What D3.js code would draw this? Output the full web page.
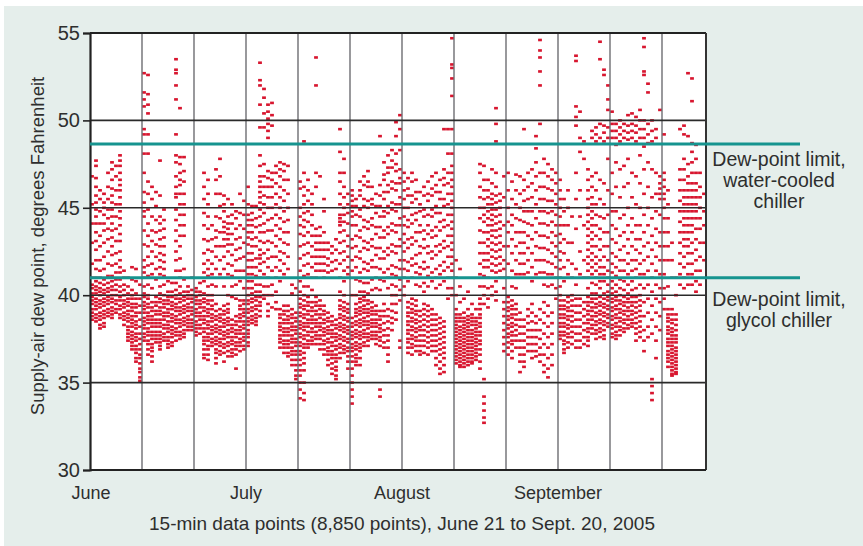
<!DOCTYPE html>
<html><head><meta charset="utf-8">
<script src="https://cdn.jsdelivr.net/npm/d3@7"></script>
<style>body{margin:0;background:#fff}svg{display:block}</style>
</head><body><svg id="c" width="863" height="546"></svg>
<script>
// ---- data (values in tenths of a degree F, one string per 4-px time slice) ----
const yTicks = [30, 35, 40, 45, 50, 55];
const monthLabels = ["June", "July", "August", "September"];
const monthSlices = [0, 39, 78, 117];
const gridSlices = [13, 26, 39, 52, 65, 78, 91, 104, 117, 130, 143];
const waterLimit = 48.65;
const glycolLimit = 41.0;
const waterLabel = ["Dew-point limit,", "water-cooled", "chiller"];
const glycolLabel = ["Dew-point limit,", "glycol chiller"];
const yTitle = "Supply-air dew point, degrees Fahrenheit";
const xTitle = "15-min data points (8,850 points), June 21 to Sept. 20, 2005";

const block00 = [
"468 452 441 430 418 410 406 404 401 399 397 395 392 390 388 386",
"477 474 467 462 457 453 449 445 441 436 431 426 420 415 410 408 405 403 401 398 396 394 392 389 387 385",
"460 455 448 441 434 428 420 414 410 407 404 402 400 397 395 393 390 388 386 383 381",
"458 453 450 446 441 437 430 422 415 409 406 403 401 398 396 394 391 389 387 384 382",
"470 462 455 449 444 438 432 425 418 411 407 404 402 399 397 395 392 390 388",
"476 472 466 461 457 453 449 445 441 437 433 428 423 417 411 408 405 403 400 398 396 393 391 389 387",
"474 468 460 452 445 438 431 424 418 413 409 406 403 400 397 395 392 390",
"480 477 474 470 466 463 460 456 452 448 444 440 435 431 425 420 416 413 409 405 402 399 397 394 392 389 387",
"414 410 406 403 400 397 395 393 390 388 386 383",
"410 405 401 398 396 394 391 389 387 385 382 380 378 376 374",
"416 409 403 400 398 395 393 391 388 386 384 382 379 377 375 373 371 369",
"415 408 401 398 395 393 390 388 385 383 381 378 376 374 371 369 367 364 362",
"406 398 394 390 386 382 378 375 372 369 366 364 361 358 356 353 351"];
const block01 = [
"527 516 512 508 495 492 481 470 459 453 448 445 437 429 420 416 413 410 405 401 399 396 394 392 390 387 385 383 381 378 376 374",
"526 515 509 504 492 481 465 458 449 441 434 428 422 417 411 406 400 398 395 393 390 388 386 384 381 379 377 374 372 369 366",
"462 455 445 437 431 425 418 412 404 396 393 391 388 386 384 382 379 377 375 372 370 368 365 362",
"459 451 443 436 429 422 415 409 399 396 394 391 389 386 384 382 379 377 375 373",
"477 457 445 441 437 432 428 424 420 416 412 405 401 398 396 393 391 389 386 384 382 379 377 375 373 371 369",
"449 443 438 433 428 423 419 415 411 406 400 397 395 393 390 388 386 383 381 378 376 374",
"408 402 399 397 395 392 390 388 385 383 381 379 376 374 372 370",
"407 402 399 396 394 392 389 387 385 382 380 378 376 373 371",
"535 529 527 520 512 492 480 476 468 462 458 456 449 443 437 431 425 420 414 407 403 400 398 395 393 391 388 386 384 381 379 377 374",
"507 479 475 470 466 463 458 452 446 440 434 428 421 414 410 405 401 398 396 393 391 389 386 384 382 379 377 375",
"479 471 465 458 452 446 440 434 415 409 402 399 397 394 392 390 387 385 383 380 378 376",
"405 402 400 398 395 393 391 388 386 384 382 380",
"410 403 400 398 396 393 391 389 386 384 382 380"];
const block02 = [
"404 402 399 397 395 392 390 388 385 383 381 379 377",
"407 402 400 397 395 393 390 388 386 383 381 378",
"470 462 455 447 440 432 424 418 413 408 401 398 396 393 391 388 386 384 381 379 376 374 372 369 366 364",
"466 458 452 445 438 431 426 420 415 411 405 400 397 395 392 390 388 385 383 381 378 376 374 371 369 366 363",
"440 432 425 418 412 406 400 397 394 392 389 387 385 382 380 378 375 373 371",
"472 466 458 445 437 433 428 422 415 405 395 391 388 386 383 381 379 376 374 372 369 367 364 361",
"478 468 458 451 444 436 428 420 412 392 389 387 385 382 380 378 375 373 371 368 366",
"457 452 448 442 439 436 432 428 422 415 405 394 391 389 386 384 382 379 377 375 372 370 367 362",
"455 445 441 438 435 432 429 425 418 412 400 395 392 390 387 385 383 380 378 376 373 371 368 365",
"452 446 441 435 429 423 417 411 405 399 386 383 381 379 376 374 372 369 367 365",
"448 444 438 432 426 420 414 406 398 388 385 383 380 378 376 373 371 369 366 358",
"458 447 440 433 427 421 414 408 397 394 392 389 387 385 382 380 378 375 373 371 368",
"454 446 438 430 422 414 404 397 395 392 390 388 385 383 381 378 376 374 371 369"];
const block03 = [
"462 452 446 443 440 436 433 429 424 420 416 412 408 404 400 397 395 392 390 387 385 383 380 378 376 373 371",
"451 447 443 440 436 432 428 424 420 416 412 408 404 401 398 396 393 391 388 386 384",
"451 444 439 433 428 421 416 411 406 402 399 397 394 392 389 387 385 383",
"533 523 520 509 496 480 474 468 465 462 459 456 453 449 445 440 436 431 426 423 421 418 414 410 406 402 399 396 394 391 388",
"518 513 504 496 475 468 462 457 452 447 441 436 430 424 419 412 405 400 398",
"509 505 501 498 494 490 471 467 462 456 450 443 437 431 426 421 416 410 405 400 395 391 388",
"510 503 497 470 466 462 456 450 444 437 430 422 414 406 400 393",
"474 470 464 458 452 446 440 434 428 422 416 410 402 396 392",
"476 472 468 462 456 450 444 438 432 425 420 414 408 392 389 387 384 382 380 377 375 373 370",
"475 471 466 460 454 448 442 436 430 424 418 412 394 391 389 386 384 381 379 377 374 372 370 367",
"474 466 458 450 443 436 429 422 415 394 391 388 386 384 381 379 377 374 372 370 367 365",
"406 401 392 389 387 384 382 380 377 375 373 370 368 366 363 360",
"404 390 387 385 382 380 378 375 373 371 368 366 363 360 357 354 352"];
const block04 = [
"465 461 450 445 440 435 428 421 414 408 402 398 395 393 390 388 385 383 381 378 376 373 371 368 366 363 360 357 354 350 346 341",
"488 470 462 457 452 447 443 439 434 429 423 417 411 405 400 397 394 392 389 387 384 382 380 377 375 372 370 367 364 361 357 350 344 340",
"466 460 454 448 442 436 430 424 418 412 405 399 396 394 391 389 386 384 382 379 377 374 372 370",
"458 452 446 440 434 428 422 416 410 403 396 393 391 388 386 384 381 379 376 374 372",
"536 520 470 462 438 434 430 426 422 418 414 410 399 396 394 391 389 386 384 382 379 377 375 372",
"468 439 434 430 426 422 418 414 397 394 392 389 387 384 382 380 377 375 372 369",
"455 448 436 430 426 422 418 414 410 394 391 389 386 384 381 379 377 374 372 369 366",
"430 426 421 417 413 390 387 385 382 380 378 375 373 370 368 366 363 360",
"428 424 419 414 388 385 383 380 378 376 373 371 368 366 364 361 358 355",
"432 426 420 415 386 383 381 378 376 374 371 369 366 364 362 359 357 354 352",
"495 482 470 465 458 452 446 444 442 440 436 430 424 418 410 402 397 394 392 389 387 384 382 380 377 375 372 370 367 364",
"478 470 462 456 450 446 442 437 431 425 420 414 408 400 396 393 391 388 386 383 381 379 376 374 371 369 367",
"458 452 447 441 434 428 422 416 412 395 392 390 387 385 382 380 378 375 373 370 368 365 362 358"];
const block05 = [
"460 457 454 451 448 445 440 432 427 420 414 400 387 384 382 379 377 375 372 370 368 365 362 358 354 350 346 342 338",
"455 451 446 440 434 428 422 416 409 400 395 392 390 388 385 383 380 378 376 373 371 369 366 364 362 360",
"465 460 457 449 445 437 433 425 421 413 408 402 398 396 393 391 389 386 384 382 379 377 375 372 370 368 364 360",
"468 463 455 451 443 439 431 427 419 415 407 402 399 397 394 392 390 387 385 383 380 378 376 373 371",
"471 465 462 454 450 442 438 430 426 418 414 407 401 397 395 392 390 388 385 383 381 378 376 374 371",
"462 455 452 444 440 432 428 420 416 409 403 396 393 391 389 386 384 382 379 377 375",
"458 451 447 439 435 427 423 416 410 404 394 391 389 386 384 382 379 377 375 372",
"491 463 457 451 445 439 433 427 421 415 409 403 391 388 386 383 381 379 376 374 371 346 342",
"476 469 466 459 455 448 445 437 433 425 421 413 408 395 391 388 384 380 377 373 370",
"480 473 470 463 459 451 447 439 435 427 423 415 410 404 392 388 385 381 377 374 370 366 362",
"483 477 473 465 461 453 449 441 437 429 425 417 412 406 400 395 391 387 384 380",
"499 491 481 475 471 464 460 452 448 440 436 428 424 416 411 405 400 395 390 386",
"503 495 483 472 467 464 456 452 444 440 432 428 420 415 409 403 397 374 370"];
const block06 = [
"470 465 460 455 450 445 440 435 430 425 420 415 410 405 400",
"467 461 457 450 443 439 432 427 419 414 408 396 393 390 388 385 383 380 378 375 373 370 367",
"470 465 457 453 446 441 433 429 421 417 410 398 395 392 390 387 385 382 380 377 375 372 370 366",
"466 459 455 447 443 436 431 423 418 413 406 397 394 391 389 386 384 381 379 376 374 371 368",
"459 452 448 440 436 428 424 416 412 405 391 388 385 382 380 377 374 371 368 366",
"462 457 449 445 437 432 427 419 415 407 402 395 392 389 386 383 380 377 374 371 367",
"465 458 454 446 440 435 428 424 416 411 405 394 391 388 385 382 379 376 373 370 366",
"468 461 457 449 445 437 433 425 421 413 408 392 389 386 383 380 377 374 371 368",
"470 463 459 451 447 439 434 428 423 415 410 404 389 386 383 380 377 374 371 368 364 360",
"466 459 455 447 442 437 429 425 417 412 406 387 384 381 378 375 372 369 366 362 358 355",
"495 472 467 463 455 451 443 439 431 427 419 414 408 385 382 379 376 373 370 367 364 360 356",
"495 481 470 464 458 452 446 440 434 428 422 416 410 404 398",
"547 532 530 524 514 495 481 474 470 466 462 458 454 450 446 442 438 434 430 426 422 418 414 410 404 400"];
const block07 = [
"420 410 400 392 389 387 385 383 381 379 377 375 373 371 369 367 365 363 361",
"415 405 396 389 387 385 382 380 378 376 374 372 370 368 366 364 362 360 359",
"398 390 387 385 383 381 379 377 375 373 371 369 367 365 363 361 359",
"402 392 388 386 384 382 380 378 376 374 372 370 368 366 364 362 360",
"395 389 387 385 383 380 378 376 374 372 370 368 366 364 362 361",
"392 387 385 383 381 379 377 375 373 371 369 367 365 363",
"475 470 462 456 450 444 437 430 424 418 412 405 398 395 392 389 387 384 382 379 377 374 372 369 366 362 358",
"474 466 460 455 450 446 442 436 430 424 420 416 411 405 400 395 352 342 338 334 330 327",
"466 460 456 452 448 444 440 436 432 428 424 420 416 410 404 398 393",
"472 464 458 455 452 449 446 443 440 437 434 430 426 422 418 414 405 400",
"507 498 488 470 462 457 453 449 445 441 437 433 429 425 421 417 413 408 402 397",
"458 454 450 446 442 438 434 430 426 422 418 414 410",
"468 456 440 428 420 415 410 404 396 392 388 384 380 376 372 368"];
const block08 = [
"470 460 450 442 436 428 418 410 399 396 393 391 388 386 383 381 378 376 373 370 366",
"465 455 446 440 432 424 414 405 397 394 392 389 387 384 382 379 377 374 372 368 364",
"469 460 452 444 436 428 420 412 404 395 392 389 386 383 380 377 374 370",
"468 458 450 443 436 430 424 418 412 390 386 382 378 374 370 366 362 356",
"495 466 460 454 448 442 436 430 424 418 412 386 382 378 374 370 366 362 359",
"470 462 455 448 441 434 427 420 413 392 388 384 380 376 372 368",
"472 464 456 448 440 432 424 416 408 395 390 385 380 376 372 368 364",
"491 484 476 468 460 452 444 436 428 420 412 388 384 380 376 372 368 365",
"546 540 536 528 520 498 470 462 455 448 441 434 427 420 413 392 386 380 375 370 366 362",
"478 470 462 455 448 441 434 427 420 413 406 396 390 384 378 372 366 360 356",
"475 468 461 454 447 440 433 426 419 412 405 394 388 382 376 370 364 358 353",
"472 466 460 454 448 442 436 430 424 418 412 406 390 384 378 372 366 360",
"470 464 458 452 446 440 434 428 422 416 410 404 398"];
const block09 = [
"466 460 455 450 445 440 435 430 425 420 415 410 405 400 397 394 392 389 387 384 382 379 377 375",
"455 448 440 432 424 416 408 397 394 392 389 387 384 382 379 377 374 372 369 367",
"460 450 440 430 420 412 399 396 393 391 388 386 383 381 378 376 373 370",
"445 430 418 410 400 397 394 391 388 385 382 379 376 372",
"537 534 508 502 497 470 455 438 415 406 398 394 390 386 382 378 374 370",
"505 490 482 460 445 425 412 398 394 390 386 382 378 374 370",
"488 478 440 420 410 396 392 388 384 380 376 372",
"472 466 460 455 450 446 442 438 434 430 426 422 418 414 410 404 399 396 394 391 389 386 384 381 379 376 374 371",
"494 490 468 462 456 452 448 444 440 436 432 428 424 420 416 412 407 401 398 396 393 391 388 386 383 381 378",
"496 492 488 470 460 452 446 440 434 428 422 418 414 410 406 401 398 395 393 390 388 385 383 380 378 375",
"545 535 498 490 466 455 445 438 432 426 420 416 412 408 404 399 396 394 391 389 386 384 381 379 376",
"529 526 497 493 488 464 452 444 436 428 422 416 412 408 401 398 395 393 390 388 385 383 380 377 375",
"520 512 506 496 490 478 460 446 436 428 420 414 410 406 402 399 397 394 392 389 387 384 382"];
const block10 = [
"505 498 494 490 470 458 448 440 432 424 418 413 408 404 401 398 396 393 391 388 386 383 381 378 376",
"498 494 490 486 476 462 448 438 430 422 416 411 406 402 399 397 394 392 389 387 384 382 379 377 375",
"500 496 492 488 472 456 444 434 426 420 414 409 404 400 397 395 392 390 387 385 382 380 377",
"498 494 490 474 462 446 436 428 420 414 408 403 399 396 394 391 389 386 384 381 379",
"503 497 493 489 478 464 450 440 432 424 418 412 406 401 398 396 393 391 388 386 383 381",
"504 498 494 490 470 456 444 436 428 420 414 408 403 399 396 394 391 389 386 384 382",
"502 497 493 488 468 452 440 432 426 420 415 410 404 399 396 393 390 387 384 381 378 374",
"506 500 495 490 480 464 450 440 432 424 418 412 406 400 397 394 391 388 385 382 379 376",
"547 542 528 526 500 495 490 485 472 458 446 436 428 420 412 404 396 388 380 374 368",
"521 516 498 492 487 476 462 450 440 430 422 414 406 398 390 382 376",
"500 494 488 472 456 444 434 426 418 410 402 394 386 378 352 348 344 340",
"495 490 470 458 448 438 430 422 414 406 398 390 382 374 364",
"506 468 464 461 458 455 446 436 428 420 412 404 396 388 380"];
const block11 = [
"492 470 466 462 458 455 450 444 436 428 420 412 404 398 392",
"460 452 444 436 428 420 405 392 389 387 385 382 380 378 375 373 371 368 366 364 362 359",
"430 420 410 392 389 386 384 381 379 377 375 373 371 369 367 365 363 361 359 357 355 354",
"410 400 389 386 383 380 377 375 373 370 368 366 364 362 360 358 356 355",
"495 472 466 460 454 448 442 436 430 424 418 412 406",
"497 492 478 472 466 460 456 452 448 444 440 436 432 428 422 416 410 404",
"527 491 475 468 464 460 456 452 448 444 440 436 432 428 424 418 412 406",
"524 511 487 482 476 470 464 460 456 452 448 444 440 436 430 424 418 412 406",
"486 478 470 464 460 456 452 448 444 438 432 426 420 414 408 402",
"470 462 456 450 444 438 430 422 414 406",
"458 448 440 430 420"];

// ---- build ----
const slices = [].concat(block00, block01, block02, block03, block04, block05,
  block06, block07, block08, block09, block10, block11);
const points = [];
slices.forEach((s, i) => s.trim().split(/\s+/).forEach(v => points.push({i, v: +v / 10})));

const W = 863, H = 546;
const M = {l: 90, r: 706, t: 33, b: 470};
const x = d3.scaleLinear().domain([0, slices.length]).range([M.l, M.r]);
const y = d3.scaleLinear().domain([30, 55]).range([M.b, M.t]);
const svg = d3.select("#c");
const FONT = "'Liberation Sans', Arial, Helvetica, sans-serif";
const TXT = "#2e2e2e";

svg.append("rect").attr("x", 4).attr("y", 6).attr("width", W - 4).attr("height", H - 6).attr("fill", "#e5eeeb");
svg.append("rect").attr("x", M.l).attr("y", M.t).attr("width", M.r - M.l).attr("height", M.b - M.t).attr("fill", "#fff");

// points
const colW = x(1) - x(0);
svg.append("g").selectAll("rect").data(points).join("rect")
  .attr("x", d => x(d.i) + 0.1)
  .attr("width", colW - 0.2)
  .attr("y", d => y(d.v) - 1.3)
  .attr("height", 2.6)
  .attr("fill", "#d8162f");

// grid
svg.append("g").selectAll("line").data(gridSlices).join("line")
  .attr("x1", d => x(d)).attr("x2", d => x(d))
  .attr("y1", M.t).attr("y2", M.b)
  .attr("stroke", "#6d6d72").attr("stroke-width", 1.4);
svg.append("g").selectAll("line").data(yTicks.slice(1, -1)).join("line")
  .attr("x1", M.l).attr("x2", M.r)
  .attr("y1", d => y(d)).attr("y2", d => y(d))
  .attr("stroke", "#2a2a2a").attr("stroke-width", 1.6);
// frame
svg.append("line").attr("x1", M.l).attr("x2", M.r).attr("y1", y(55)).attr("y2", y(55)).attr("stroke", "#222").attr("stroke-width", 2.2);
svg.append("line").attr("x1", M.r).attr("x2", M.r).attr("y1", M.t).attr("y2", M.b).attr("stroke", "#333").attr("stroke-width", 2);
svg.append("line").attr("x1", M.l).attr("x2", M.r).attr("y1", M.b).attr("y2", M.b).attr("stroke", "#222").attr("stroke-width", 2.2);

// y axis
const ax = svg.append("g").attr("transform", `translate(${M.l},0)`)
  .call(d3.axisLeft(y).tickValues(yTicks).tickSize(7).tickPadding(3).tickFormat(d3.format("d")));
ax.select(".domain").attr("stroke", "#222").attr("stroke-width", 2.2);
ax.selectAll(".tick line").attr("stroke", "#222").attr("stroke-width", 1.6);
ax.selectAll("text").attr("font-family", FONT).attr("font-size", 20).attr("fill", TXT);

// limit lines
[waterLimit, glycolLimit].forEach(v => {
  svg.append("line").attr("x1", M.l).attr("x2", 800).attr("y1", y(v)).attr("y2", y(v))
    .attr("stroke", "#16948f").attr("stroke-width", 3);
});
const labelBlock = (lines, y0) => {
  const t = svg.append("text").attr("font-family", FONT).attr("font-size", 19.5).attr("fill", TXT).attr("text-anchor", "middle");
  lines.forEach((s, j) => t.append("tspan").attr("x", 779).attr("y", y0 + j * 21).text(s));
};
labelBlock(waterLabel, y(waterLimit) + 22);
labelBlock(glycolLabel, y(glycolLimit) + 28);

// month labels
svg.append("g").selectAll("text").data(monthLabels).join("text")
  .attr("x", (d, i) => x(monthSlices[i]) + (i === 0 ? 1 : 0))
  .attr("y", 499)
  .attr("text-anchor", "middle")
  .attr("font-family", FONT).attr("font-size", 18).attr("fill", TXT)
  .text(d => d);

svg.append("text").attr("x", 402).attr("y", 530).attr("text-anchor", "middle")
  .attr("font-family", FONT).attr("font-size", 19).attr("fill", TXT).text(xTitle);
svg.append("text").attr("transform", "translate(44,246) rotate(-90)").attr("text-anchor", "middle")
  .attr("font-family", FONT).attr("font-size", 18.5).attr("fill", TXT).text(yTitle);
</script></body></html>
